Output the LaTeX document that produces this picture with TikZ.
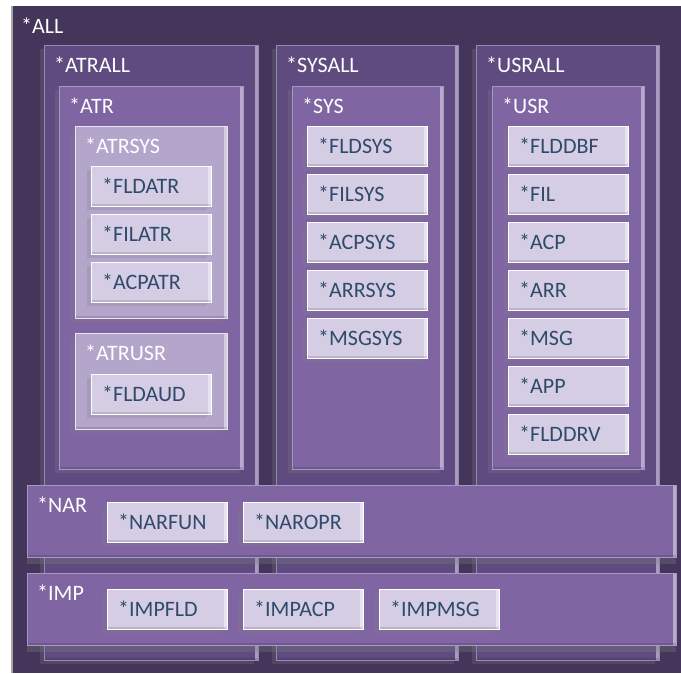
\documentclass[tikz,border=0pt]{standalone}
\usepackage{fontspec}
\setmainfont{Carlito}
\usetikzlibrary{shadows}
\definecolor{allc}{HTML}{44365A}
\definecolor{colc}{HTML}{5F4B80}
\definecolor{innc}{HTML}{8065A3}
\definecolor{midc}{HTML}{B4A5CB}
\definecolor{leafc}{HTML}{D5CDE4}
\definecolor{leaftext}{HTML}{2F4A6B}
\definecolor{edgec}{HTML}{A996C8}
\tikzset{
  boxbase/.style={rectangle, inner sep=0pt, outer sep=0pt, anchor=north west,
    path picture={
      \draw[white, opacity=.45, line width=3pt]
        ([xshift=-1.5pt]path picture bounding box.north east) -- ([xshift=-1.5pt]path picture bounding box.south east);
      \draw[black, opacity=.12, line width=2pt]
        ([yshift=1pt]path picture bounding box.south west) -- ([yshift=1pt]path picture bounding box.south east);
    }},
  allbox/.style={rectangle, inner sep=0pt, outer sep=0pt, anchor=north west, fill=allc,
    path picture={
      \draw[gray!70, line width=1.5pt]
        ([xshift=0.75pt]path picture bounding box.north west) -- ([xshift=0.75pt]path picture bounding box.south west);
    }},
  colbox/.style={boxbase, fill=colc, draw=edgec!80!colc, line width=0.8pt,
    drop shadow={shadow xshift=-4pt, shadow yshift=-4pt, opacity=.25}},
  innbox/.style={boxbase, fill=innc, draw=edgec, line width=0.8pt,
    drop shadow={shadow xshift=-4pt, shadow yshift=-4pt, opacity=.25}},
  barbox/.style={boxbase, fill=innc, draw=edgec, line width=0.8pt,
    drop shadow={shadow xshift=0pt, shadow yshift=-7pt, opacity=.3}},
  midbox/.style={boxbase, fill=midc, draw=white!70!midc, line width=0.8pt,
    drop shadow={shadow xshift=-4pt, shadow yshift=-4pt, opacity=.25}},
  leafbox/.style={boxbase, fill=leafc, draw=white, line width=0.8pt,
    minimum width=120pt, minimum height=40pt,
    drop shadow={shadow xshift=-4pt, shadow yshift=-4pt, opacity=.25}},
  lbl/.style={inner sep=0pt, anchor=base west, text=white,
    font=\fontsize{22}{26}\selectfont},
  leaflbl/.style={inner sep=0pt, anchor=base west, text=leaftext,
    font=\fontsize{22}{26}\selectfont},
}
\newcommand\mybx[7]{% name, style, x1, y1, x2, y2, label
  \pgfmathsetmacro\mybw{#5-#3}\pgfmathsetmacro\mybh{#6-#4}
  \node[#2, minimum width=\mybw pt, minimum height=\mybh pt] (#1) at (#3,-#4) {};
  \node[lbl] (#1-l) at ([xshift=10pt,yshift=-27.5pt]#1.north west) {#7};
}
\newcommand\mylf[4]{% name, x1, y1, text
  \node[leafbox] (#1) at (#2,-#3) {};
  \node[leaflbl] (#1-l) at ([xshift=11pt,yshift=-27.5pt]#1.north west) {#4};
}
\begin{document}
\begin{tikzpicture}[x=1pt,y=1pt]
\useasboundingbox (0,0) rectangle (681,-673);
\fill[white] (0,0) rectangle (681,-673);
\mybx{all}{allbox}{11}{6}{681}{673}{*ALL}
% columns
\mybx{atrall}{colbox}{44}{45}{258}{660}{*ATRALL}
\mybx{sysall}{colbox}{276}{45}{458}{660}{*SYSALL}
\mybx{usrall}{colbox}{476}{45}{659}{660}{*USRALL}
% inner
\mybx{atr}{innbox}{59}{86}{243}{469}{*ATR}
\mybx{sys}{innbox}{292}{86}{443}{469}{*SYS}
\mybx{usr}{innbox}{492}{86}{644}{469}{*USR}
% mid
\mybx{atrsys}{midbox}{75}{126}{227}{318}{*ATRSYS}
\mybx{atrusr}{midbox}{75}{333}{227}{429}{*ATRUSR}
% leaves ATR
\mylf{fldatr}{91}{166}{*FLDATR}
\mylf{filatr}{91}{214}{*FILATR}
\mylf{acpatr}{91}{262}{*ACPATR}
\mylf{fldaud}{91}{374}{*FLDAUD}
% leaves SYS
\mylf{fldsys}{307}{126}{*FLDSYS}
\mylf{filsys}{307}{174}{*FILSYS}
\mylf{acpsys}{307}{222}{*ACPSYS}
\mylf{arrsys}{307}{270}{*ARRSYS}
\mylf{msgsys}{307}{318}{*MSGSYS}
% leaves USR
\mylf{flddbf}{508}{126}{*FLDDBF}
\mylf{fil}{508}{174}{*FIL}
\mylf{acp}{508}{222}{*ACP}
\mylf{arr}{508}{270}{*ARR}
\mylf{msg}{508}{318}{*MSG}
\mylf{app}{508}{366}{*APP}
\mylf{flddrv}{508}{414}{*FLDDRV}
% bars
\mybx{nar}{barbox}{27}{485}{676}{557}{*NAR}
\mylf{narfun}{107}{502}{*NARFUN}
\mylf{naropr}{243}{502}{*NAROPR}
\mybx{imp}{barbox}{27}{573}{676}{645}{*IMP}
\mylf{impfld}{107}{589}{*IMPFLD}
\mylf{impacp}{243}{589}{*IMPACP}
\mylf{impmsg}{379}{589}{*IMPMSG}
\end{tikzpicture}
\end{document}
